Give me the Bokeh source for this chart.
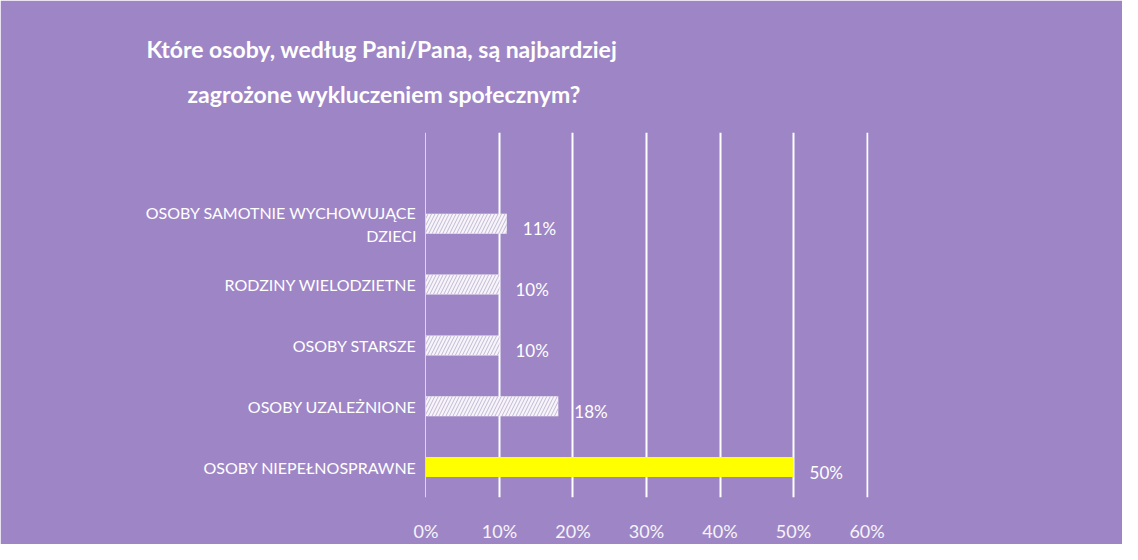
from bokeh.plotting import figure
from bokeh.models import Range1d, FixedTicker, PrintfTickFormatter, ColumnDataSource, Grid, Title
from bokeh.core.properties import value
from bokeh.embed import file_html
from bokeh.resources import INLINE

# ---- data (top to bottom as in the chart) ----
categories = [
    "OSOBY SAMOTNIE WYCHOWUJĄCE\nDZIECI",
    "RODZINY WIELODZIETNE",
    "OSOBY STARSZE",
    "OSOBY UZALEŻNIONE",
    "OSOBY NIEPEŁNOSPRAWNE",
]
values = [11, 10, 10, 18, 50]
value_labels = ["11%", "10%", "10%", "18%", "50%"]
x_ticks = [0, 10, 20, 30, 40, 50, 60]
title_lines = ["Które osoby, według Pani/Pana, są najbardziej",
               "zagrożone wykluczeniem społecznym?"]

# ---- styling ----
BG = "#9e86c6"
n = len(categories)
ypos = [n - 1 - i for i in range(n)]
fills = ["#f7f5fa"] * (n - 1) + ["#ffff00"]
hatches = ["/"] * (n - 1) + [" "]

src = ColumnDataSource(dict(y=ypos, v=values, lab=value_labels,
                            fill=fills, hatch=hatches))

p = figure(width=1122, height=544, output_backend="svg", toolbar_location=None,
           x_range=Range1d(-0.2, 60.2), y_range=Range1d(-0.5, 5.5),
           min_border_left=424, min_border_right=254,
           min_border_top=132, min_border_bottom=47,
           background_fill_color=BG, border_fill_color=BG,
           outline_line_color=BG, outline_line_width=2)

# small blank spacer nearest the frame, then the two title lines
p.add_layout(Title(text=" ", text_font_size="2px", standoff=8), "above")
p.add_layout(Title(text=title_lines[1], align="left", offset=-237, standoff=25,
                   text_color="white", text_font="Lato", text_font_style="bold",
                   text_font_size="23px"), "above")
p.add_layout(Title(text=title_lines[0], align="left", offset=-278, standoff=6,
                   text_color="white", text_font="Lato", text_font_style="bold",
                   text_font_size="23px"), "above")

# grid: faint line at 0%, white lines elsewhere
p.xgrid.ticker = FixedTicker(ticks=x_ticks[1:])
p.xgrid.grid_line_color = "white"
p.xgrid.grid_line_width = 2
p.ygrid.visible = False
p.add_layout(Grid(dimension=0, ticker=FixedTicker(ticks=x_ticks[:1]),
                  grid_line_color="#dcd3ec", grid_line_width=1))

p.hbar(y="y", right="v", left=0, height=0.33, source=src,
       fill_color="fill", line_color=None,
       hatch_pattern="hatch", hatch_color="#c2b8d4", hatch_scale=7, hatch_weight=1)

p.text(x="v", y="y", text="lab", source=src, x_offset=16, y_offset=5,
       text_color="white", text_font=value("Lato"), text_font_size="17px",
       text_align="left", text_baseline="middle")

# x axis
p.xaxis.ticker = FixedTicker(ticks=x_ticks)
p.xaxis.formatter = PrintfTickFormatter(format="%d%%")
p.xaxis.axis_line_color = None
p.xaxis.major_tick_line_color = None
p.xaxis.minor_tick_line_color = None
p.xaxis.major_tick_out = 0
p.xaxis.major_tick_in = 0
p.xaxis.minor_tick_out = 0
p.xaxis.major_label_standoff = 22
p.xaxis.major_label_text_color = "#f6f4fa"
p.xaxis.major_label_text_font = "Lato"
p.xaxis.major_label_text_font_size = "18px"

# y axis
p.yaxis.ticker = FixedTicker(ticks=ypos)
p.yaxis.major_label_overrides = {y: c for y, c in zip(ypos, categories)}
p.yaxis.axis_line_color = None
p.yaxis.major_tick_line_color = None
p.yaxis.minor_tick_line_color = None
p.yaxis.major_tick_out = 0
p.yaxis.major_tick_in = 0
p.yaxis.minor_tick_out = 0
p.yaxis.major_label_standoff = 8
p.yaxis.major_label_text_color = "white"
p.yaxis.major_label_text_font = "Lato"
p.yaxis.major_label_text_font_size = "16px"

open("out.html", "w").write(file_html(p, INLINE))
